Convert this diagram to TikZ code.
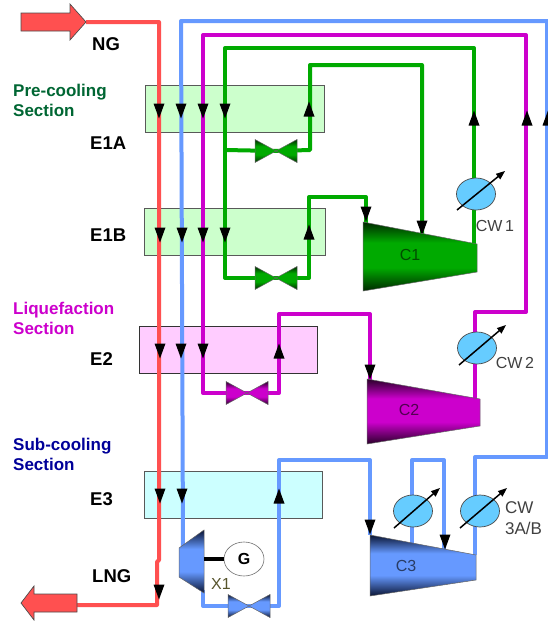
\documentclass[tikz,border=0pt]{standalone}
\usepackage{fontspec}
\setmainfont{Liberation Sans}
\usetikzlibrary{calc,shapes.geometric}
\definecolor{rd}{HTML}{FF5050}
\definecolor{bl}{HTML}{6699FF}
\definecolor{mg}{HTML}{CC00CC}
\definecolor{gn}{HTML}{00AA00}
\definecolor{cwc}{HTML}{66CCFF}
\definecolor{secg}{HTML}{006633}
\definecolor{secb}{HTML}{000099}
\pgfdeclareverticalshading{shgreen}{100bp}{rgb(0bp)=(0,0.16,0);rgb(25bp)=(0,0.16,0);rgb(42bp)=(0,0.667,0);rgb(60bp)=(0,0.667,0);rgb(75bp)=(0,0.16,0);rgb(100bp)=(0,0.16,0)}
\pgfdeclareverticalshading{shmag}{100bp}{rgb(0bp)=(0.16,0,0.16);rgb(25bp)=(0.16,0,0.16);rgb(42bp)=(0.8,0,0.8);rgb(60bp)=(0.8,0,0.8);rgb(75bp)=(0.16,0,0.16);rgb(100bp)=(0.16,0,0.16)}
\pgfdeclareverticalshading{shblue}{100bp}{rgb(0bp)=(0.04,0.08,0.2);rgb(25bp)=(0.04,0.08,0.2);rgb(42bp)=(0.4,0.6,1);rgb(60bp)=(0.4,0.6,1);rgb(75bp)=(0.04,0.08,0.2);rgb(100bp)=(0.04,0.08,0.2)}
\tikzset{
  pipe/.style={line width=4pt,line join=round},
  redpipe/.style={pipe,draw=rd},
  bluepipe/.style={pipe,draw=bl},
  magpipe/.style={pipe,draw=mg},
  greenpipe/.style={pipe,draw=gn},
  hx/.style={draw=black!65,line width=0.9pt,inner sep=0pt,minimum height=47pt},
  tagb/.style={font=\fontsize{18.5}{19}\selectfont\bfseries,text=black,inner sep=0pt,anchor=west},
  sect/.style={font=\fontsize{17}{19.5}\selectfont\bfseries,inner sep=0pt,anchor=north west,align=left},
  lab/.style={font=\fontsize{16}{20}\selectfont,inner sep=0pt},
  cooler/.style={ellipse,draw=black!70,fill=cwc,line width=0.7pt,inner sep=0pt,minimum width=39pt,minimum height=32pt},
  cwarrow/.style={draw=black,line width=1.5pt},
  dnhead/.pic={\fill[black] (-5.5,-7.5)--(5.5,-7.5)--(0,7.5)--cycle;},
  uphead/.pic={\fill[black] (-5.5,7.5)--(5.5,7.5)--(0,-7.5)--cycle;},
  pics/valve/.style={code={
    \shade[shading=#1,draw=black!60,line width=0.5pt] (-21,-11.5)--(21,11.5)--(21,-11.5)--(-21,11.5)--cycle;
  }},
}
\begin{document}
\begin{tikzpicture}[x=1pt,y=-1pt]
\useasboundingbox (0,0) rectangle (548,621);
\clip (0,0) rectangle (548,621);
% exchangers
\node[hx,fill={rgb,255:red,204;green,255;blue,204},minimum width=179pt] (E1Abox) at (234.5,108.5) {};
\node[hx,fill={rgb,255:red,204;green,255;blue,204},minimum width=181pt] (E1Bbox) at (234.5,231.5) {};
\node[hx,draw=black!80,fill={rgb,255:red,255;green,204;blue,255},minimum width=178pt] (E2box) at (228,349.5) {};
\node[hx,fill={rgb,255:red,204;green,255;blue,255},minimum width=178pt] (E3box) at (233,494.5) {};
% pipe points
\coordinate (ngtip) at (86,22);
\coordinate (lngend) at (77,605);
\coordinate (c1in) at (366,224);
\coordinate (c1mid) at (422,234);
\coordinate (c1out) at (474,244);
\coordinate (c2in) at (370,380);
\coordinate (c2out) at (475,399);
\coordinate (c3in) at (370,535);
\coordinate (c3a) at (412,545);
\coordinate (c3b) at (444,550);
\coordinate (c3out) at (475,555);
\coordinate (x1in) at (183,548);
\coordinate (x1out) at (203,590);
\coordinate (v1) at (276,151);
\coordinate (v2) at (276,278);
\coordinate (v3) at (247,393);
\coordinate (v4) at (249,606);
% red
\draw[redpipe] (ngtip) -- (159,22) -- (159,560) -- (157,562) -- (157,605) -- (lngend);
% blue
\draw[bluepipe] (x1in) -- (181,21) -- (552,21);
\draw[bluepipe] (547,21) -- (547,457) -- (475,457) -- (c3out);
\draw[bluepipe] (c3a) -- (412,460) -- (444,460) -- (c3b);
\draw[bluepipe] (x1out) -- (203,606) -- (v4) -- (279,606) -- (279,460) -- (370,460) -- (c3in);
% magenta
\draw[magpipe] (c2out) -- (475,312) -- (526,312) -- (526,35) -- (203,35) -- (203,393) -- (v3) -- (279,393) -- (279,314) -- (370,314) -- (c2in);
% green
\draw[greenpipe] (c1out) -- (474,48) -- (225,48) -- (225,278) -- (v2) -- (309,278) -- (309,197) -- (366,197) -- (c1in);
\draw[greenpipe] (225,150) -- (v1) -- (310,150) -- (310,65) -- (422,65) -- (c1mid);
% arrowheads
\foreach \px in {159,181,203,225} \pic at (\px,111) {dnhead};
\foreach \px in {160,182,203,225} \pic at (\px,235) {dnhead};
\foreach \px in {160,181,203} \pic at (\px,351) {dnhead};
\foreach \px in {160,182} \pic at (\px,496) {dnhead};
\pic at (159,592) {dnhead};
\pic at (366,214) {dnhead};
\pic at (422,228) {dnhead};
\pic at (370,372) {dnhead};
\pic at (370,527) {dnhead};
\pic at (445,542) {dnhead};
\foreach \px/\py in {309/109,309/232,279/351,279/496,474/118,527/118,548/118} \pic at (\px,\py) {uphead};
% valves
\pic at (v1) {valve=shgreen};
\pic at (v2) {valve=shgreen};
\pic at (v3) {valve=shmag};
\pic at (v4) {valve=shblue};
% compressors
\shade[shading=shgreen,draw=black!60,line width=0.5pt] (363,222)--(477,244)--(477,272)--(363,291)--cycle;
\shade[shading=shmag,draw=black!60,line width=0.5pt] (367,379)--(480,399)--(480,426)--(367,444)--cycle;
\shade[shading=shblue,draw=black!60,line width=0.5pt] (370,535)--(476,555)--(476,580)--(370,596)--cycle;
\shade[shading=shblue,draw=black!60,line width=0.5pt] (179,548)--(204,530)--(204,593)--(179,577)--cycle;
\node[lab,text=black!70!green] (C1) at (410,255) {C1};
\node[lab,text=black!60!mg] (C2) at (409,410) {C2};
\node[lab,text=black!60!bl] (C3) at (406,566) {C3};
% generator
\node[draw=black!55,fill=white,ellipse,line width=0.6pt,minimum width=40pt,minimum height=34pt,inner sep=0pt,font=\fontsize{16}{16}\selectfont\bfseries] (G) at (244,559) {G};
\coordinate (x1shaft) at (204,559);
\draw[black,line width=4.5pt] (x1shaft) -- (G.west);
\node[lab,text=black!50!olive] (X1) at (221,584) {X1};
% coolers
\node[cooler] (cw1) at (476,194) {};
\node[cooler] (cw2) at (477,348) {};
\node[cooler] (cw3a) at (413,511) {};
\node[cooler] (cw3b) at (480,511) {};
\coordinate (cw1s) at (457,210); \coordinate (cw1e) at (505,171);
\coordinate (cw2s) at (459,365); \coordinate (cw2e) at (506,325);
\coordinate (cw3as) at (394,528); \coordinate (cw3ae) at (440,488);
\coordinate (cw3bs) at (460,528); \coordinate (cw3be) at (507,488);
\foreach \ca/\cb in {cw1s/cw1e,cw2s/cw2e,cw3as/cw3ae,cw3bs/cw3be}{
  \draw[cwarrow] (\ca) -- ($(\cb)!7pt!(\ca)$);
  \fill[black] (\cb) -- ($(\cb)!9pt!(\ca)!3.6pt!90:(\ca)$) -- ($(\cb)!9pt!(\ca)!3.6pt!-90:(\ca)$) -- cycle;
}
\node[lab,text=black!75] (CW1) at (495,226) {CW\,1};
\node[lab,text=black!75] (CW2) at (515,363) {CW\,2};
\node[lab,text=black!75,anchor=north west,align=left,font=\fontsize{17}{21}\selectfont] (CW3) at (505,501) {CW\\3A/B};
% stream arrows
\path[fill=rd,draw=black!70,line width=0.7pt] (21,13)--(70,13)--(70,4)--(86,22)--(70,40)--(70,31)--(21,31)--cycle;
\path[fill=rd,draw=black!70,line width=0.7pt] (77,594)--(34,594)--(34,586)--(21,603)--(34,620)--(34,612)--(77,612)--cycle;
% labels
\node[tagb] (NG) at (92,44) {NG};
\node[tagb] (LNG) at (92,576) {LNG};
\node[tagb] (E1A) at (90,143) {E1A};
\node[tagb] (E1B) at (90,235) {E1B};
\node[tagb] (E2) at (90,359) {E2};
\node[tagb] (E3) at (90,499) {E3};
\node[sect,text=secg] (pre) at (13,84) {Pre-cooling\\Section};
\node[sect,text=mg] (liq) at (13,302) {Liquefaction\\Section};
\node[sect,text=secb] (sub) at (13,438) {Sub-cooling\\Section};
\end{tikzpicture}
\end{document}
